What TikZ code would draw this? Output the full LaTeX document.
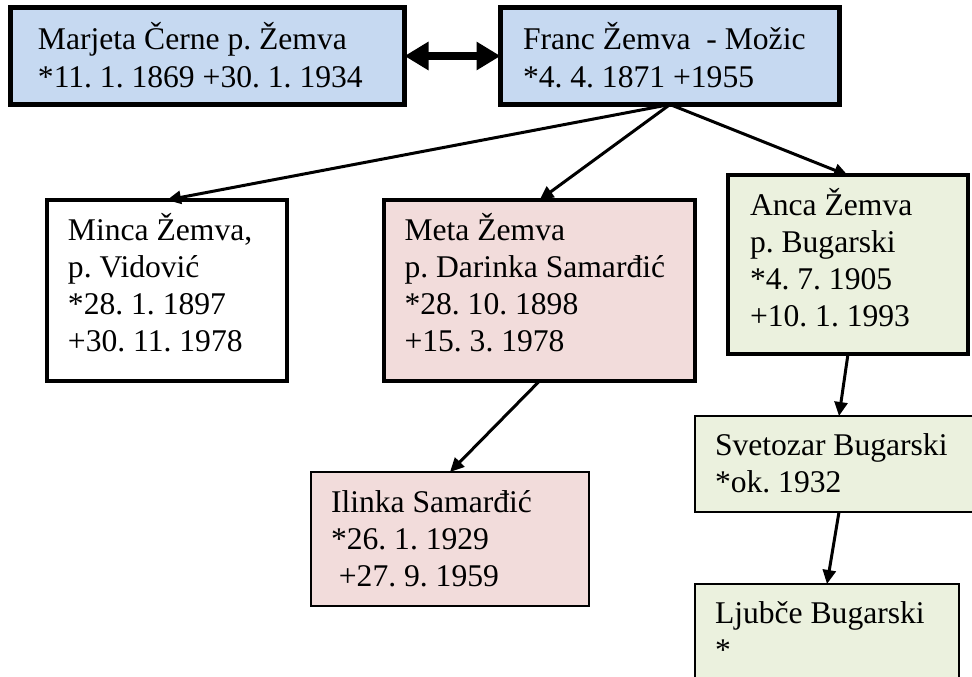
\documentclass[tikz,border=0pt]{standalone}
\usepackage{fontspec}
\setmainfont{Liberation Serif}
\usetikzlibrary{arrows.meta}
\definecolor{bluefill}{HTML}{C6D9F1}
\definecolor{pinkfill}{HTML}{F2DCDB}
\definecolor{greenfill}{HTML}{EBF1DE}
\frenchspacing
\newcommand{\boxtext}[5]{\parbox[c][#2bp][t]{#1bp}{\frenchspacing\leftskip=#3bp\relax\rule{0pt}{#4bp}#5}}
\tikzset{
  personbox/.style={draw, inner sep=0pt, outer sep=0pt, font=\fontsize{31.6bp}{37.2bp}\selectfont},
  thickbox/.style={personbox, line width=5bp},
  midbox/.style={personbox, line width=4bp},
  thinbox/.style={personbox, line width=2bp},
  conn/.style={line width=3bp, -{Triangle[length=14bp,width=13bp]}},
  dblconn/.style={line width=8bp, {Triangle[length=24bp,width=27bp]}-{Triangle[length=24bp,width=27bp]}}
}
\begin{document}
\begin{tikzpicture}[x=1bp,y=-1bp]
\path[use as bounding box, fill=white] (0,0) rectangle (972,677);
\node[thickbox, fill=bluefill] (marjeta) at (207.5,56)
  {\boxtext{394}{97}{27.5}{42.5}{Marjeta Černe p. Žemva\\{}*11. 1. 1869 +30. 1. 1934}};
\node[thickbox, fill=bluefill] (franc) at (670,56)
  {\boxtext{339}{97}{22.5}{42.5}{Franc Žemva\ \ - Možic\\{}*4. 4. 1871 +1955}};
\node[midbox, fill=white] (minca) at (167,290.5)
  {\boxtext{240}{181}{21}{40}{Minca Žemva,\\p. Vidović\\{}*28. 1. 1897\\+30. 11. 1978}};
\node[midbox, fill=pinkfill] (meta) at (539.5,290.5)
  {\boxtext{311}{181}{20.5}{40}{Meta Žemva\\p. Darinka Samarđić\\{}*28. 10. 1898\\+15. 3. 1978}};
\node[midbox, fill=greenfill] (anca) at (848,264.75)
  {\boxtext{240}{178.5}{22}{39.5}{Anca Žemva\\p. Bugarski\\{}*4. 7. 1905\\+10. 1. 1993}};
\node[thinbox, fill=greenfill] (svetozar) at (839,464)
  {\boxtext{288}{96}{20}{39}{Svetozar Bugarski\\{}*ok. 1932}};
\node[thinbox, fill=greenfill] (ljubce) at (827,652)
  {\boxtext{264}{136}{20}{39}{Ljubče Bugarski\\{}*}};
\node[thinbox, fill=pinkfill] (ilinka) at (450,539)
  {\boxtext{278}{134}{20}{40}{Ilinka Samarđić\\{}*26. 1. 1929\\\hspace*{0.25em}+27. 9. 1959}};
\draw[dblconn] (marjeta.east) -- (franc.west);
\draw[conn] (franc.south) -- (minca.north);
\draw[conn] (franc.south) -- (meta.north);
\draw[conn] (franc.south) -- (anca.north);
\draw[conn] (meta.south) -- (ilinka.north);
\draw[conn] (anca.south) -- (svetozar.north);
\draw[conn] (svetozar.south) -- (ljubce.north);
\end{tikzpicture}
\end{document}
